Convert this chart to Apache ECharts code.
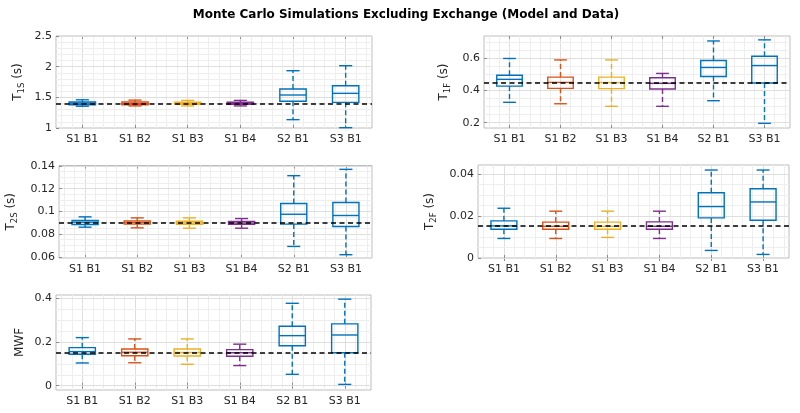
<!DOCTYPE html>
<html>
<head>
<meta charset="utf-8">
<script src="https://cdn.jsdelivr.net/npm/echarts@6/dist/echarts.min.js"></script>
<style>
html, body { margin: 0; padding: 0; background: #fff; }
#main { width: 800px; height: 413px; }
</style>
</head>
<body>
<div id="main"></div>
<script>
var categories = ['S1 B1', 'S1 B2', 'S1 B3', 'S1 B4', 'S2 B1', 'S3 B1'];
var boxColors = ['#0072BD', '#D95319', '#EDB120', '#7E2F8E', '#0072BD', '#0072BD'];

// each box: [lower whisker, Q1, median, Q3, upper whisker]
var t1sBoxes = [
    [1.355, 1.38, 1.405, 1.425, 1.46],
    [1.36, 1.38, 1.40, 1.425, 1.455],
    [1.36, 1.385, 1.40, 1.42, 1.45],
    [1.36, 1.385, 1.40, 1.42, 1.45],
    [1.136, 1.435, 1.538, 1.636, 1.934],
    [1.005, 1.418, 1.565, 1.69, 2.016]
];
var t1fBoxes = [
    [0.327, 0.428, 0.47, 0.496, 0.60],
    [0.318, 0.414, 0.451, 0.484, 0.591],
    [0.302, 0.412, 0.45, 0.484, 0.591],
    [0.302, 0.41, 0.445, 0.48, 0.507],
    [0.337, 0.488, 0.544, 0.587, 0.709],
    [0.196, 0.447, 0.556, 0.614, 0.716]
];
var t2sBoxes = [
    [0.0861, 0.0885, 0.0905, 0.092, 0.0952],
    [0.0855, 0.0888, 0.0900, 0.0915, 0.0943],
    [0.0852, 0.0887, 0.0898, 0.0913, 0.0943],
    [0.0852, 0.0887, 0.0898, 0.0912, 0.0937],
    [0.0691, 0.0888, 0.0975, 0.107, 0.1315],
    [0.0618, 0.0867, 0.0964, 0.1078, 0.1371]
];
var t2fBoxes = [
    [0.0093, 0.0137, 0.0153, 0.0177, 0.0237],
    [0.0093, 0.0137, 0.0151, 0.0171, 0.0223],
    [0.0098, 0.0137, 0.0151, 0.0171, 0.0223],
    [0.0093, 0.0137, 0.0151, 0.0172, 0.0223],
    [0.0036, 0.0191, 0.0245, 0.0311, 0.0419],
    [0.0017, 0.018, 0.0267, 0.033, 0.0419]
];
var mwfBoxes = [
    [0.104, 0.144, 0.156, 0.174, 0.22],
    [0.105, 0.137, 0.153, 0.168, 0.214],
    [0.098, 0.136, 0.152, 0.168, 0.214],
    [0.092, 0.135, 0.151, 0.165, 0.19],
    [0.052, 0.183, 0.229, 0.272, 0.377],
    [0.006, 0.151, 0.232, 0.283, 0.396]
];

// reference (model) values, drawn as dashed lines
var t1sRef = 1.4;
var t1fRef = 0.448;
var t2sRef = 0.09;
var t2fRef = 0.0152;
var mwfRef = 0.151;

var t1sTicks = [1, 1.5, 2, 2.5];
var t1fTicks = [0.2, 0.4, 0.6];
var t2sTicks = [0.06, 0.08, 0.1, 0.12, 0.14];
var t2fTicks = [0, 0.02, 0.04];
var mwfTicks = [0, 0.2, 0.4];

var FONT = 'DejaVu Sans';
var nameRich = {
    t: { fontSize: 12, color: '#262626', fontFamily: FONT, lineHeight: 16 },
    s: { fontSize: 8.5, color: '#262626', fontFamily: FONT, lineHeight: 9, verticalAlign: 'bottom' }
};

var panels = [
    { name: '{t|T}{s|1S}{t| (s)}', boxes: t1sBoxes, ref: t1sRef, ticks: t1sTicks, minor: 0.1, min: 1, max: 2.5,
      rect: [56, 36, 316, 92], nameGap: 30 },
    { name: '{t|T}{s|1F}{t| (s)}', boxes: t1fBoxes, ref: t1fRef, ticks: t1fTicks, minor: 0.05, min: 0.167, max: 0.74,
      rect: [484, 36, 306, 92], nameGap: 32 },
    { name: '{t|T}{s|2S}{t| (s)}', boxes: t2sBoxes, ref: t2sRef, ticks: t2sTicks, minor: 0.005, min: 0.0589, max: 0.1405,
      rect: [59, 165.5, 313, 92.5], nameGap: 40 },
    { name: '{t|T}{s|2F}{t| (s)}', boxes: t2fBoxes, ref: t2fRef, ticks: t2fTicks, minor: 0.005, min: 0, max: 0.0443,
      rect: [478, 165, 311, 93], nameGap: 40 },
    { name: '{t|MWF}', boxes: mwfBoxes, ref: mwfRef, ticks: mwfTicks, minor: 0.05, min: -0.0197, max: 0.415,
      rect: [56, 295, 315, 95], nameGap: 28 }
];

function minorValues(min, max, step, majors)
{
    var out = [];
    var start = Math.ceil(min / step - 1e-9);
    for (var i = start; i * step <= max + 1e-9; i++)
    {
        var v = Math.round(i * step * 1e6) / 1e6;
        var isMajor = majors.some(function (m) { return Math.abs(m - v) < 1e-9; });
        if (!isMajor) out.push(v);
    }
    return out;
}

var catCenters = [1, 2, 3, 4, 5, 6];
var xMinor = minorValues(0.5, 6.5, 0.2, catCenters);

function renderBox(params, api)
{
    var i = api.value(0);
    var lo = api.coord([i, api.value(1)]);
    var q1 = api.coord([i, api.value(2)]);
    var md = api.coord([i, api.value(3)]);
    var q3 = api.coord([i, api.value(4)]);
    var hi = api.coord([i, api.value(5)]);
    var bw = api.size([1, 0])[0] * 0.5;
    var x = lo[0];
    var color = boxColors[i];
    var solid = { stroke: color, lineWidth: 1.4, fill: null };
    var dashed = { stroke: color, lineWidth: 1.4, lineDash: [5, 3] };
    return {
        type: 'group',
        children: [
            { type: 'line', shape: { x1: x, y1: q3[1], x2: x, y2: hi[1] }, style: dashed },
            { type: 'line', shape: { x1: x, y1: q1[1], x2: x, y2: lo[1] }, style: dashed },
            { type: 'line', shape: { x1: x - bw / 4, y1: hi[1], x2: x + bw / 4, y2: hi[1] }, style: solid },
            { type: 'line', shape: { x1: x - bw / 4, y1: lo[1], x2: x + bw / 4, y2: lo[1] }, style: solid },
            { type: 'rect', shape: { x: x - bw / 2, y: q3[1], width: bw, height: q1[1] - q3[1] },
              style: { stroke: color, lineWidth: 1.4, fill: 'rgba(255,255,255,0)' } },
            { type: 'line', shape: { x1: x - bw / 2, y1: md[1], x2: x + bw / 2, y2: md[1] }, style: solid }
        ]
    };
}

var option = {
    animation: false,
    backgroundColor: '#fff',
    graphic: [{
        type: 'text',
        x: 406,
        y: 9,
        style: {
            text: 'Monte Carlo Simulations Excluding Exchange (Model and Data)',
            font: 'bold 12px "DejaVu Sans"',
            fill: '#000',
            textAlign: 'center'
        }
    }],
    grid: [],
    xAxis: [],
    yAxis: [],
    series: []
};

panels.forEach(function (p, k) {
    option.grid.push({
        left: p.rect[0], top: p.rect[1], width: p.rect[2], height: p.rect[3],
        show: true, borderColor: '#bdbdbd', borderWidth: 1, backgroundColor: '#fff'
    });

    var xi = option.xAxis.length;
    var yi = option.yAxis.length;
    var noLine = { show: false };

    // bottom category axis with labels
    option.xAxis.push({
        type: 'category', gridIndex: k, data: categories,
        axisLine: noLine,
        axisTick: { show: true, inside: true, alignWithLabel: true, length: 3, lineStyle: { color: '#8c8c8c' } },
        axisLabel: { fontSize: 11, color: '#262626', fontFamily: FONT, margin: 6 },
        splitLine: { show: false }
    });
    // minor vertical grid
    option.xAxis.push({
        type: 'value', gridIndex: k, min: 0.5, max: 6.5,
        axisLine: noLine, axisLabel: { show: false },
        axisTick: { show: false, customValues: xMinor },
        splitLine: { show: true, lineStyle: { color: '#eeeeee', width: 1 } }
    });
    // major vertical grid + top ticks
    option.xAxis.push({
        type: 'value', gridIndex: k, min: 0.5, max: 6.5, position: 'top',
        axisLine: noLine, axisLabel: { show: false, customValues: catCenters },
        axisTick: { show: true, inside: true, length: 3, customValues: catCenters, lineStyle: { color: '#8c8c8c' } },
        splitLine: { show: true, lineStyle: { color: '#dedede', width: 1 } }
    });

    var yMinor = minorValues(p.min, p.max, p.minor, p.ticks);
    // left value axis with labels
    option.yAxis.push({
        type: 'value', gridIndex: k, min: p.min, max: p.max,
        name: p.name, nameLocation: 'middle', nameRotate: 90, nameGap: p.nameGap,
        nameTextStyle: { rich: nameRich, color: '#262626', fontSize: 12, fontFamily: FONT },
        axisLine: noLine,
        axisTick: { show: true, inside: true, length: 3, customValues: p.ticks, lineStyle: { color: '#8c8c8c' } },
        axisLabel: { fontSize: 11, color: '#262626', fontFamily: FONT, margin: 4, customValues: p.ticks },
        splitLine: { show: true, lineStyle: { color: '#dedede', width: 1 } },
        z: 3
    });
    // minor horizontal grid
    option.yAxis.push({
        type: 'value', gridIndex: k, min: p.min, max: p.max,
        axisLine: noLine, axisLabel: { show: false },
        axisTick: { show: false, customValues: yMinor },
        splitLine: { show: true, lineStyle: { color: '#eeeeee', width: 1 } },
        z: 1
    });
    // right ticks
    option.yAxis.push({
        type: 'value', gridIndex: k, min: p.min, max: p.max, position: 'right',
        axisLine: noLine, axisLabel: { show: false, customValues: p.ticks },
        axisTick: { show: true, inside: true, length: 3, customValues: p.ticks, lineStyle: { color: '#8c8c8c' } },
        splitLine: { show: false }
    });

    var data = p.boxes.map(function (b, i) {
        return [i, b[0], b[1], b[2], b[3], b[4]];
    });

    option.series.push({
        type: 'custom',
        xAxisIndex: xi,
        yAxisIndex: yi,
        renderItem: renderBox,
        encode: { x: 0, y: [1, 2, 3, 4, 5] },
        data: data,
        z: 5,
        markLine: {
            silent: true,
            symbol: 'none',
            precision: 6,
            label: { show: false },
            lineStyle: { color: '#000', width: 1.5, type: [5, 3.5] },
            data: [{ yAxis: p.ref }],
            z: 10
        }
    });
});

var myChart = echarts.init(document.getElementById('main'));
myChart.setOption(option);
</script>
</body>
</html>
